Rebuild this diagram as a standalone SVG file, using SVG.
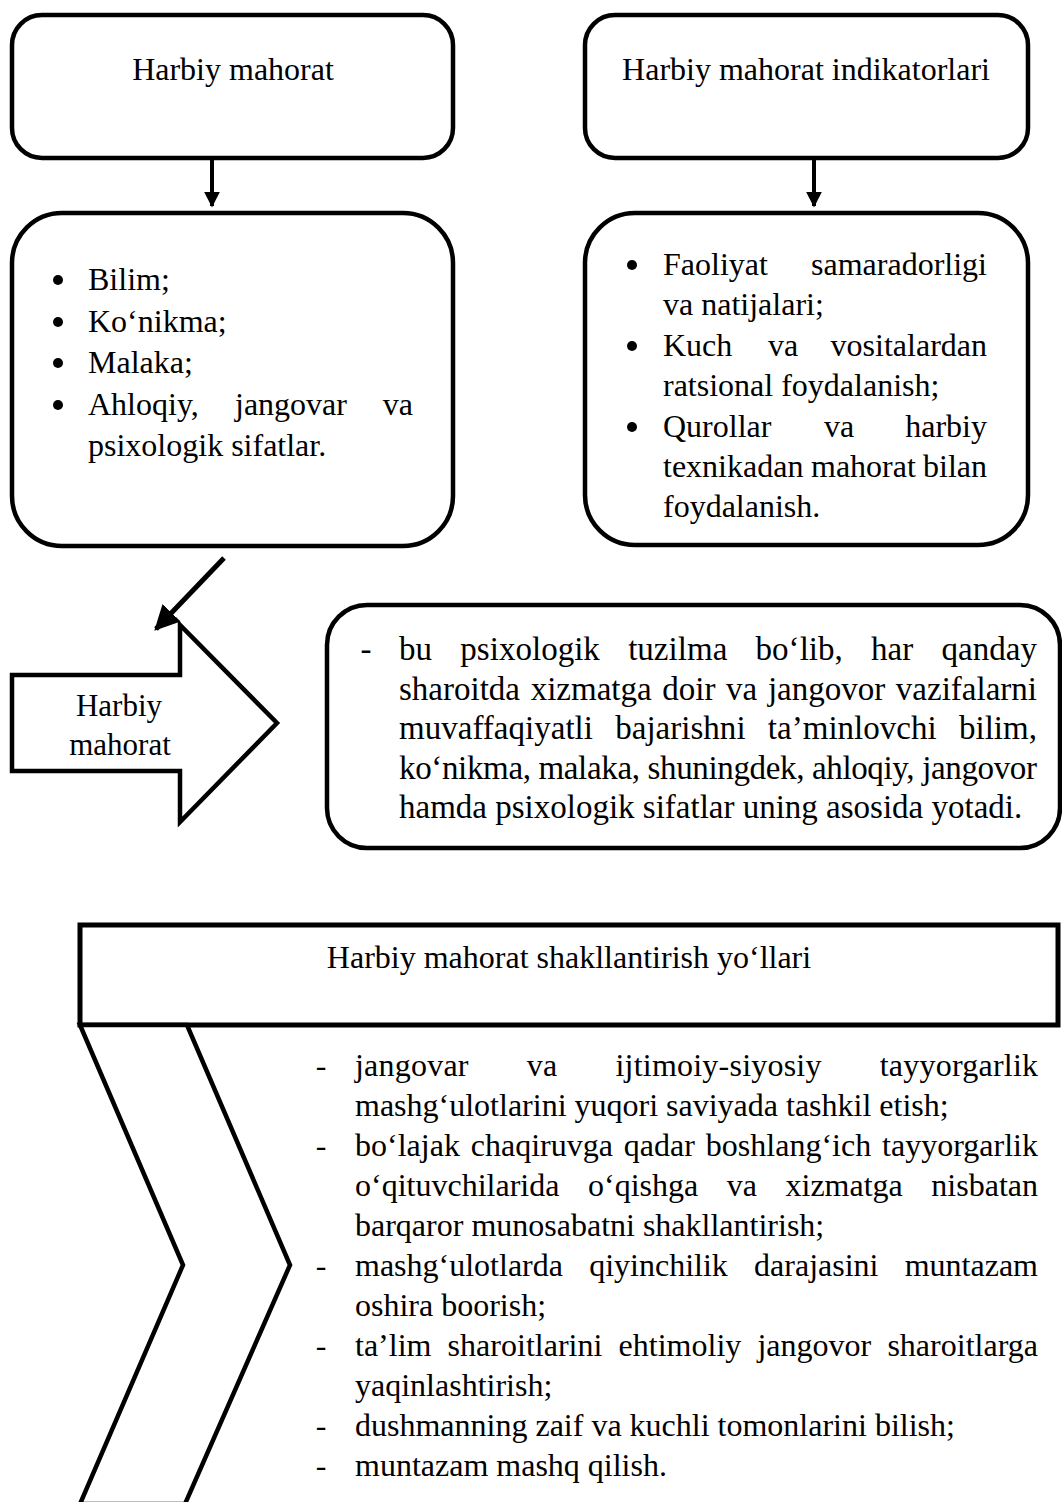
<svg xmlns="http://www.w3.org/2000/svg" width="1062" height="1502" viewBox="0 0 1062 1502">
<style>
.box{fill:#fff;stroke:#000;stroke-width:4.5;stroke-linejoin:round}
.t{font-family:"Liberation Serif","Times New Roman",serif;fill:#000}
.s32{font-size:32px}
.s33{font-size:33px}
.c{text-anchor:middle}
.e{text-anchor:end}
.bul{fill:#000}
.conn{stroke:#000;fill:none}
</style>
<defs>
<marker id="ah" viewBox="0 0 10 10" refX="9" refY="5" markerWidth="4" markerHeight="4" markerUnits="strokeWidth" orient="auto">
<path d="M0,0 L10,5 L0,10 Z" fill="#000"/>
</marker>
<marker id="ah2" viewBox="0 0 10 10" refX="9" refY="5" markerWidth="5" markerHeight="5.4" markerUnits="strokeWidth" orient="auto">
<path d="M0,0 L10,5 L0,10 Z" fill="#000"/>
</marker>
</defs>
<rect width="1062" height="1502" fill="#fff"/>

<g id="node-title-left">
<rect class="box" x="12" y="15" width="441" height="143" rx="30"/>
<text class="t s32 c" x="233" y="80">Harbiy mahorat</text>
</g>

<g id="node-title-right">
<rect class="box" x="585" y="15" width="443" height="143" rx="30"/>
<text class="t s32 c" x="806" y="80">Harbiy mahorat indikatorlari</text>
</g>

<g id="node-list-left">
<rect class="box" x="12" y="213" width="441" height="333" rx="50"/>
<circle class="bul" cx="58" cy="280" r="5"/>
<circle class="bul" cx="58" cy="322" r="5"/>
<circle class="bul" cx="58" cy="363" r="5"/>
<circle class="bul" cx="58" cy="405" r="5"/>
<g class="t s32">
<text x="88" y="290">Bilim;</text>
<text x="88" y="332">Ko‘nikma;</text>
<text x="88" y="373">Malaka;</text>
<text x="88" y="415">Ahloqiy,</text><text x="235" y="415">jangovar</text><text class="e" x="413" y="415">va</text>
<text x="88" y="456">psixologik sifatlar.</text>
</g>
</g>

<g id="node-list-right">
<rect class="box" x="585" y="213" width="443" height="332" rx="50"/>
<circle class="bul" cx="632" cy="265" r="5"/>
<circle class="bul" cx="632" cy="346" r="5"/>
<circle class="bul" cx="632" cy="427" r="5"/>
<g class="t s32">
<text x="663" y="275">Faoliyat</text><text class="e" x="987" y="275">samaradorligi</text>
<text x="663" y="315">va natijalari;</text>
<text x="663" y="356">Kuch</text><text x="768" y="356">va</text><text class="e" x="987" y="356">vositalardan</text>
<text x="663" y="396">ratsional foydalanish;</text>
<text x="663" y="437">Qurollar</text><text x="824" y="437">va</text><text class="e" x="987" y="437">harbiy</text>
<text x="663" y="477">texnikadan</text><text x="811" y="477">mahorat</text><text class="e" x="987" y="477">bilan</text>
<text x="663" y="517">foydalanish.</text>
</g>
</g>

<g id="node-block-arrow">
<polygon class="box" points="12,675 180,675 180,625 277,723 180,822 180,771 12,771" style="stroke-linejoin:miter"/>
<text class="t c" style="font-size:31px" x="119" y="716">Harbiy</text>
<text class="t c" style="font-size:31px" x="120" y="755">mahorat</text>
</g>

<g id="node-definition">
<rect class="box" x="327" y="605" width="733" height="243" rx="40"/>
<g class="t s33">
<text class="c" x="366" y="660">-</text>
<text x="399" y="660" word-spacing="20" textLength="638" lengthAdjust="spacing">bu psixologik tuzilma bo‘lib, har qanday</text>
<text x="399" y="700" word-spacing="2.4" textLength="638" lengthAdjust="spacing">sharoitda xizmatga doir va jangovor vazifalarni</text>
<text x="399" y="739" word-spacing="14" textLength="638" lengthAdjust="spacing">muvaffaqiyatli bajarishni ta’minlovchi bilim,</text>
<text x="399" y="779" textLength="638" lengthAdjust="spacing">ko‘nikma, malaka, shuningdek, ahloqiy, jangovor</text>
<text x="399" y="818">hamda psixologik sifatlar uning asosida yotadi.</text>
</g>
</g>

<g id="node-ways-header">
<rect x="80" y="925" width="978" height="100" fill="#fff" stroke="#000" stroke-width="5"/>
<text class="t c" style="font-size:32px" x="569" y="968">Harbiy mahorat shakllantirish yo‘llari</text>
</g>

<g id="node-chevron">
<polygon points="80,1025 187,1025 290,1265 185,1504 80,1504 183,1265" fill="#fff" stroke="#000" stroke-width="4.5" stroke-linejoin="miter"/>
</g>

<g id="node-ways-list">
<g class="t s32">
<text class="c" x="321" y="1076">-</text>
<text x="355" y="1076" word-spacing="49.8" textLength="683" lengthAdjust="spacing">jangovar va ijtimoiy-siyosiy tayyorgarlik</text>
<text x="355" y="1116">mashg‘ulotlarini yuqori saviyada tashkil etish;</text>
<text class="c" x="321" y="1156">-</text>
<text x="355" y="1156" word-spacing="2.8" textLength="683" lengthAdjust="spacing">bo‘lajak chaqiruvga qadar boshlang‘ich tayyorgarlik</text>
<text x="355" y="1196" word-spacing="20.5" textLength="683" lengthAdjust="spacing">o‘qituvchilarida o‘qishga va xizmatga nisbatan</text>
<text x="355" y="1236">barqaror munosabatni shakllantirish;</text>
<text class="c" x="321" y="1276">-</text>
<text x="355" y="1276" word-spacing="18.2" textLength="683" lengthAdjust="spacing">mashg‘ulotlarda qiyinchilik darajasini muntazam</text>
<text x="355" y="1316">oshira boorish;</text>
<text class="c" x="321" y="1356">-</text>
<text x="355" y="1356" word-spacing="8.1" textLength="683" lengthAdjust="spacing">ta’lim sharoitlarini ehtimoliy jangovor sharoitlarga</text>
<text x="355" y="1396">yaqinlashtirish;</text>
<text class="c" x="321" y="1436">-</text>
<text x="355" y="1436">dushmanning zaif va kuchli tomonlarini bilish;</text>
<text class="c" x="321" y="1476">-</text>
<text x="355" y="1476">muntazam mashq qilish.</text>
</g>
</g>

<g id="connectors">
<line class="conn" x1="212" y1="158" x2="212" y2="206" stroke-width="4" marker-end="url(#ah)"/>
<line class="conn" x1="814" y1="158" x2="814" y2="206" stroke-width="4" marker-end="url(#ah)"/>
<line class="conn" x1="224" y1="558" x2="156" y2="629" stroke-width="5" marker-end="url(#ah2)"/>
</g>
</svg>
